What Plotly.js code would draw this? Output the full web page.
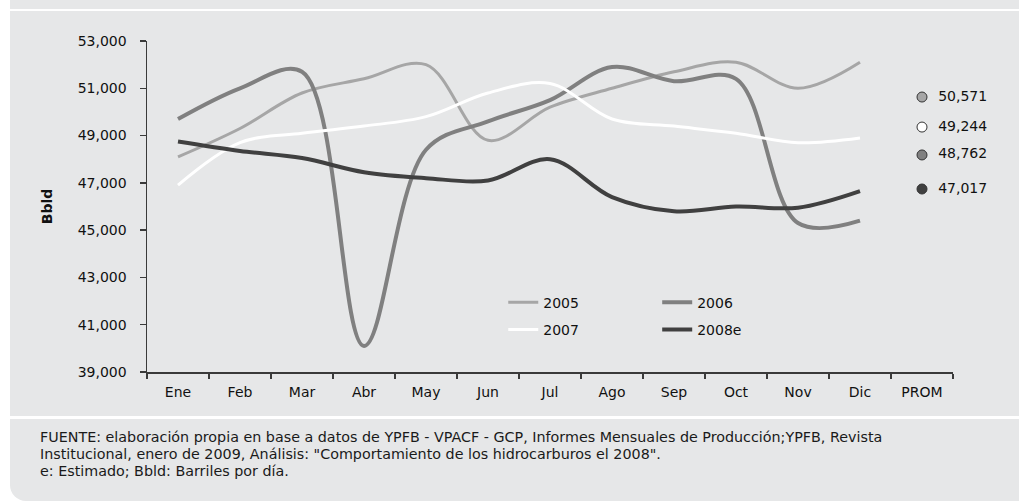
<!DOCTYPE html>
<html>
<head>
<meta charset="utf-8">
<script src="https://cdn.plot.ly/plotly-3.0.1.min.js"></script>
<style>
  html, body { margin:0; padding:0; background:#ffffff; width:1019px; height:501px; overflow:hidden; }
  .panel { position:absolute; background:#e6e7e8; }
  #footer-text { position:absolute; left:40px; top:429px; font-family:"DejaVu Sans", sans-serif; font-size:14.3px; line-height:17px; color:#1a1a1a; white-space:nowrap; }
  #chart { position:absolute; left:0; top:0; width:1019px; height:501px; }
</style>
</head>
<body>
<div class="panel" style="left:10px; top:0px; width:1009px; height:9px;"></div>
<div class="panel" style="left:10px; top:11px; width:1009px; height:405px;"></div>
<div class="panel" style="left:10px; top:419px; width:1009px; height:82px; border-bottom-left-radius:16px;"></div>
<div id="footer-text">FUENTE: elaboración propia en base a datos de YPFB - VPACF - GCP, Informes Mensuales de Producción;YPFB, Revista<br>Institucional, enero de 2009, Análisis: "Comportamiento de los hidrocarburos el 2008".<br>e: Estimado; Bbld: Barriles por día.</div>
<div id="chart"></div>
<script>
// ---- data ----
const categories = ['Ene','Feb','Mar','Abr','May','Jun','Jul','Ago','Sep','Oct','Nov','Dic','PROM'];
const months = ['Ene','Feb','Mar','Abr','May','Jun','Jul','Ago','Sep','Oct','Nov','Dic'];
const seriesNames = ['2005','2006','2007','2008e'];
const y2005 = [48100, 49300, 50800, 51400, 52000, 48800, 50200, 51000, 51700, 52100, 51000, 52100];
const y2006 = [49700, 51000, 51700, 40100, 48400, 49600, 50500, 51900, 51300, 51400, 45300, 45400];
const y2007 = [46900, 48700, 49100, 49400, 49800, 50800, 51200, 49700, 49400, 49100, 48700, 48900];
const y2008 = [48750, 48350, 48050, 47450, 47200, 47100, 48000, 46400, 45800, 46000, 45950, 46650];
// yearly averages shown at PROM (labels)
const promAverages = [50571, 49244, 48762, 47017];
// levels at which the reference draws the PROM markers (spread apart in the original)
const promMarkerLevels = [50630, 49360, 48180, 46740];
const yTickVals = [39000, 41000, 43000, 45000, 47000, 49000, 51000, 53000];

const FONT = '"DejaVu Sans", sans-serif';
const colors = ['#a6a6a6', '#808080', '#ffffff', '#404040'];
const widths = [3, 4, 3, 4];
const legendFor = ['legend', 'legend2', 'legend', 'legend2'];
const allY = [y2005, y2006, y2007, y2008];

const traces = allY.map((ys, i) => ({
  type: 'scatter', mode: 'lines', x: months, y: ys, name: seriesNames[i],
  line: {color: colors[i], width: widths[i], shape: 'spline', smoothing: 1},
  legend: legendFor[i], legendgroup: seriesNames[i], hoverinfo: 'skip'
}));

traces.push({
  type: 'scatter', mode: 'markers+text', showlegend: false,
  x: promAverages.map(() => 'PROM'), y: promMarkerLevels,
  text: promAverages.map(v => '\u00a0\u00a0' + v.toLocaleString('en-US')),
  textposition: 'middle right',
  textfont: {family: FONT, size: 14, color: '#111111'},
  marker: {size: 10, color: ['#a6a6a6', '#ffffff', '#808080', '#404040'], line: {color: '#333333', width: 1}},
  cliponaxis: false, hoverinfo: 'skip'
});

const layout = {
  width: 1019, height: 501,
  paper_bgcolor: 'rgba(0,0,0,0)', plot_bgcolor: 'rgba(0,0,0,0)',
  margin: {l: 147, r: 66, t: 41, b: 129},
  font: {family: FONT, size: 14, color: '#111111'},
  showlegend: true,
  xaxis: {
    type: 'category', categoryorder: 'array', categoryarray: categories,
    tickvals: categories, ticktext: categories,
    range: [-0.5, 12.5], showgrid: false, zeroline: false,
    showline: true, linecolor: '#3a3a3a', linewidth: 1.5,
    ticks: 'outside', tickson: 'boundaries', ticklen: 5, tickcolor: '#3a3a3a', tickwidth: 1.5,
    ticklabelstandoff: 7,
    tickfont: {family: FONT, size: 14, color: '#111111'}
  },
  yaxis: {
    range: [39000, 53000], tickvals: yTickVals, tickformat: ',d',
    showgrid: false, zeroline: false,
    showline: true, linecolor: '#3a3a3a', linewidth: 1.5,
    ticks: 'outside', ticklen: 6, tickcolor: '#3a3a3a', tickwidth: 1.5,
    ticklabelstandoff: 10,
    tickfont: {family: FONT, size: 14, color: '#111111'},
    title: {text: '<b>Bbld</b>', font: {family: FONT, size: 14, color: '#111111'}, standoff: 22}
  },
  legend: {
    x: 0.442, y: 0.258, xanchor: 'left', yanchor: 'top', orientation: 'v',
    bgcolor: 'rgba(0,0,0,0)', borderwidth: 0, tracegroupgap: 6,
    font: {family: FONT, size: 14, color: '#111111'}
  },
  legend2: {
    x: 0.633, y: 0.258, xanchor: 'left', yanchor: 'top', orientation: 'v',
    bgcolor: 'rgba(0,0,0,0)', borderwidth: 0, tracegroupgap: 6,
    font: {family: FONT, size: 14, color: '#111111'}
  }
};

Plotly.newPlot('chart', traces, layout, {staticPlot: true, displayModeBar: false});
</script>
</body>
</html>
